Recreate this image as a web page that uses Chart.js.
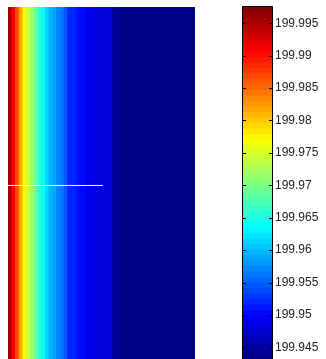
<!DOCTYPE html>
<html>
<head>
<meta charset="utf-8">
<script src="https://cdn.jsdelivr.net/npm/chart.js@4.4.1/dist/chart.umd.min.js"></script>
<style>
  html, body { margin: 0; padding: 0; background: #fff; }
  #wrap { position: relative; width: 326px; height: 359px; overflow: hidden; }
  #heat { position: absolute; left: 0; top: 0; }
  #cbar { position: absolute; left: 230px; top: 0; }
</style>
</head>
<body>
<div id="wrap">
  <canvas id="heat" width="200" height="359" style="width:200px;height:359px"></canvas>
  <canvas id="cbar" width="96" height="359" style="width:96px;height:359px"></canvas>
</div>
<script>
// values of each column of the map (rows are all the same)
const colValues = [
  199.9953, 199.9915, 199.9866, 199.9818, 199.9774, 199.9742, 199.9714, 199.9687, 199.9660, 199.9638,
  199.9617, 199.9600, 199.9589, 199.9573, 199.9562, 199.9546, 199.9524, 199.9520, 199.9514, 199.9502,
  199.9500, 199.9488, 199.9488, 199.9488, 199.9482, 199.9481, 199.9480, 199.9479, 199.9448, 199.9446,
  199.9436, 199.9436, 199.9436, 199.9436, 199.9436, 199.9436, 199.9436, 199.9436, 199.9436, 199.9436,
  199.9436, 199.9436, 199.9436, 199.9436, 199.9436, 199.9436, 199.9436, 199.9436, 199.9436, 199.9436
];

// colour limits of the colorbar
const cmin = 199.9432;
const cmax = 199.9975;
const nColors = 64;

// colorbar tick labels
const tickLabels = ['199.945', '199.95', '199.955', '199.96', '199.965', '199.97',
                    '199.975', '199.98', '199.985', '199.99', '199.995'];
const tickValues = tickLabels.map(Number);

// white marker line across the map (column units / row fraction)
const markX = [-1.07, 25.4];
const markY = 0.493;

const FONT = 'Arial, "Liberation Sans", sans-serif';

// matlab-like jet colormap
function jetColor(v) {
    let k = Math.floor((v - cmin) / (cmax - cmin) * nColors);
    k = Math.max(0, Math.min(nColors - 1, k));
    const f = (k + 0.5) / nColors;
    const c = x => Math.round(255 * Math.max(0, Math.min(1, x)));
    const r = c(Math.min(4 * f - 1.5, -4 * f + 4.5));
    const g = c(Math.min(4 * f - 0.5, -4 * f + 3.5));
    const b = c(Math.min(4 * f + 0.5, -4 * f + 2.5));
    return `rgb(${r},${g},${b})`;
}

// Heat map
new Chart(document.getElementById('heat'), {
    type: 'bar',
    data: {
        datasets: [
            {
                type: 'bar',
                data: colValues.map((v, i) => ({ x: i + 0.5, y: 1 })),
                backgroundColor: colValues.map(jetColor),
                barPercentage: 1,
                categoryPercentage: 1,
                borderWidth: 0,
                inflateAmount: 0.5,
                order: 2
            },
            {
                type: 'line',
                data: markX.map(x => ({ x: x, y: markY })),
                borderColor: '#ffffff',
                borderWidth: 1,
                pointRadius: 0,
                clip: false,
                order: 1
            }
        ]
    },
    options: {
        responsive: false,
        animation: false,
        layout: { padding: { left: 8, top: 7, right: 5, bottom: 0 } },
        plugins: { legend: { display: false }, tooltip: { enabled: false } },
        scales: {
            x: { type: 'linear', display: false, offset: false, min: 0, max: colValues.length },
            y: { type: 'linear', display: false, min: 0, max: 1 }
        }
    }
});

// Colorbar
const bands = Array.from({ length: nColors }, (_, k) => cmin + (k + 0.5) * (cmax - cmin) / nColors);

const frame = {
    id: 'frame',
    afterDatasetsDraw(chart) {
        const { ctx, chartArea: a } = chart;
        const ys = chart.scales.y;
        ctx.save();
        ctx.strokeStyle = '#000';
        ctx.lineWidth = 1;
        ctx.beginPath();
        // left, top, right edges (bottom runs off the picture)
        ctx.moveTo(a.left - 0.5, a.bottom + 2);
        ctx.lineTo(a.left - 0.5, a.top - 0.5);
        ctx.lineTo(a.right + 0.5, a.top - 0.5);
        ctx.lineTo(a.right + 0.5, a.bottom + 2);
        tickValues.forEach(v => {
            const y = Math.round(ys.getPixelForValue(v)) + 0.5;
            ctx.moveTo(a.left, y); ctx.lineTo(a.left + 3, y);
            ctx.moveTo(a.right - 3, y); ctx.lineTo(a.right, y);
        });
        ctx.stroke();
        ctx.restore();
    }
};

new Chart(document.getElementById('cbar'), {
    type: 'bar',
    data: {
        datasets: [{
            data: bands.map(v => ({ x: 1, y: v })),
            backgroundColor: bands.map(jetColor),
            barPercentage: 1,
            categoryPercentage: 1,
            borderWidth: 0,
            inflateAmount: 0.5
        }]
    },
    options: {
        indexAxis: 'y',
        responsive: false,
        animation: false,
        layout: { padding: { left: 13, top: 7, right: 0, bottom: 0 } },
        plugins: { legend: { display: false }, tooltip: { enabled: false } },
        scales: {
            x: { type: 'linear', display: false, min: 0, max: 1 },
            y: {
                type: 'linear',
                position: 'right',
                offset: false,
                min: cmin,
                max: cmax,
                grid: { display: false, drawTicks: false },
                border: { display: false },
                ticks: {
                    padding: 3,
                    color: '#222',
                    font: { family: FONT, size: 12 },
                    callback: (value, index) => tickLabels[index]
                },
                afterBuildTicks: s => { s.ticks = tickValues.map(v => ({ value: v })); },
                afterFit: s => { s.width = 54; s.paddingTop = 0; s.paddingBottom = 0; }
            }
        }
    },
    plugins: [frame]
});
</script>
</body>
</html>
